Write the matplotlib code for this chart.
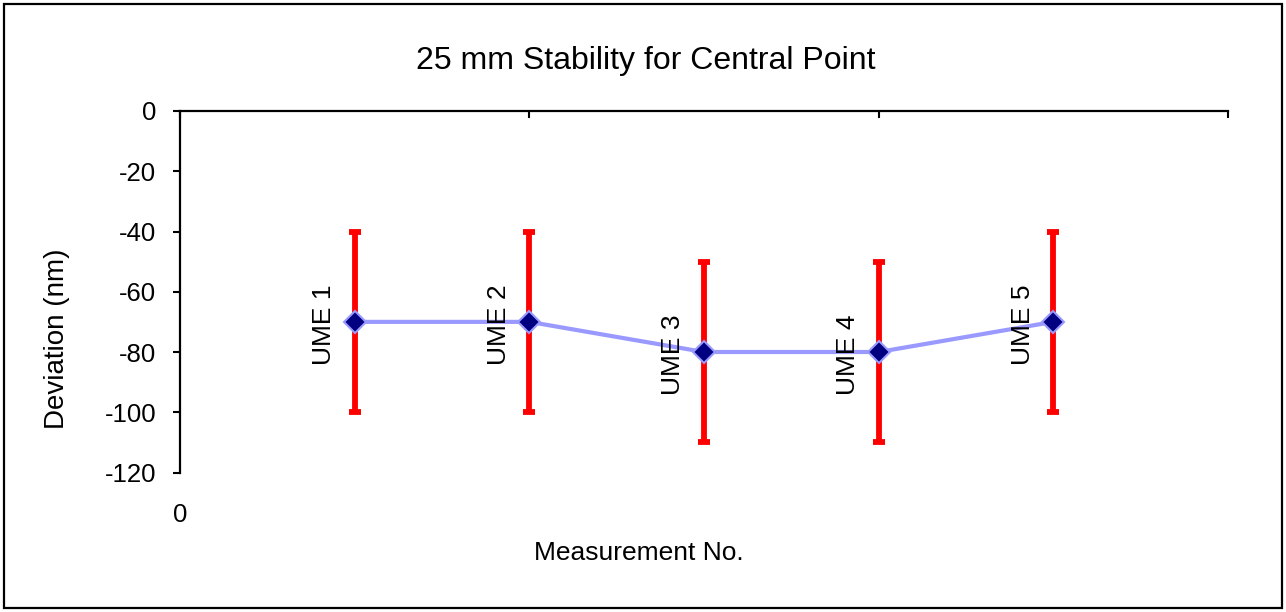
import matplotlib.pyplot as plt
from matplotlib.patches import Rectangle

plt.rcParams["font.family"] = ["Liberation Sans", "DejaVu Sans"]
plt.rcParams["axes.unicode_minus"] = False

# measurement data
labels = ["UME 1", "UME 2", "UME 3", "UME 4", "UME 5"]
measurement_no = [1, 2, 3, 4, 5]
deviation = [-70, -70, -80, -80, -70]
uncertainty = [30, 30, 30, 30, 30]

fig = plt.figure(figsize=(12.86, 6.12), dpi=100)
ax = fig.add_axes([180 / 1286, 139.5 / 612, 1048 / 1286, 361.5 / 612])

# error bars first so the line and markers sit on top
ax.errorbar(
    measurement_no, deviation, yerr=uncertainty,
    fmt="none", ecolor="#FF0000", elinewidth=4.2,
    capsize=4.3, capthick=4.2, zorder=2
)

ax.plot(
    measurement_no, deviation,
    color="#9999FF", linewidth=3,
    marker="D", markersize=11,
    markerfacecolor="#000080", markeredgecolor="#9999FF",
    markeredgewidth=1.5, zorder=3
)

for x, y, name in zip(measurement_no, deviation, labels):
    ax.annotate(
        name, (x, y), xytext=(-22, -2), textcoords="offset points",
        rotation=90, ha="center", va="center", fontsize=19
    )

ax.set_xlim(0, 6)
ax.set_ylim(-120, 0)
ax.set_yticks(range(-120, 1, 20))
ax.set_xticks([0, 2, 4, 6])
ax.set_xticklabels(["0", "", "", ""])

for side in ["right", "bottom"]:
    ax.spines[side].set_visible(False)
for side in ["left", "top"]:
    ax.spines[side].set_linewidth(1.6)

ax.tick_params(axis="y", direction="out", length=5, width=1.5, labelsize=18.5, pad=12)
ax.tick_params(
    axis="x", direction="in", length=5, width=1.5,
    top=True, bottom=False, labeltop=False, labelbottom=True,
    labelsize=18.5, pad=22
)

# titles are centred on the whole chart area
fig.text(646 / 1286, 1 - 61 / 612, "25 mm Stability for Central Point",
         fontsize=23, ha="center", va="center")
fig.text(57 / 1286, 1 - 339 / 612, "Deviation (nm)",
         fontsize=20, rotation=90, ha="center", va="center")
fig.text(639 / 1286, 1 - 553 / 612, "Measurement No.",
         fontsize=19, ha="center", va="center")

# chart area border
fig.patches.append(Rectangle(
    (4 / 1286, 4 / 612), 1278 / 1286, 604 / 612,
    transform=fig.transFigure, fill=False,
    edgecolor="black", linewidth=1.6
))

fig.savefig("out.png", dpi=100)
